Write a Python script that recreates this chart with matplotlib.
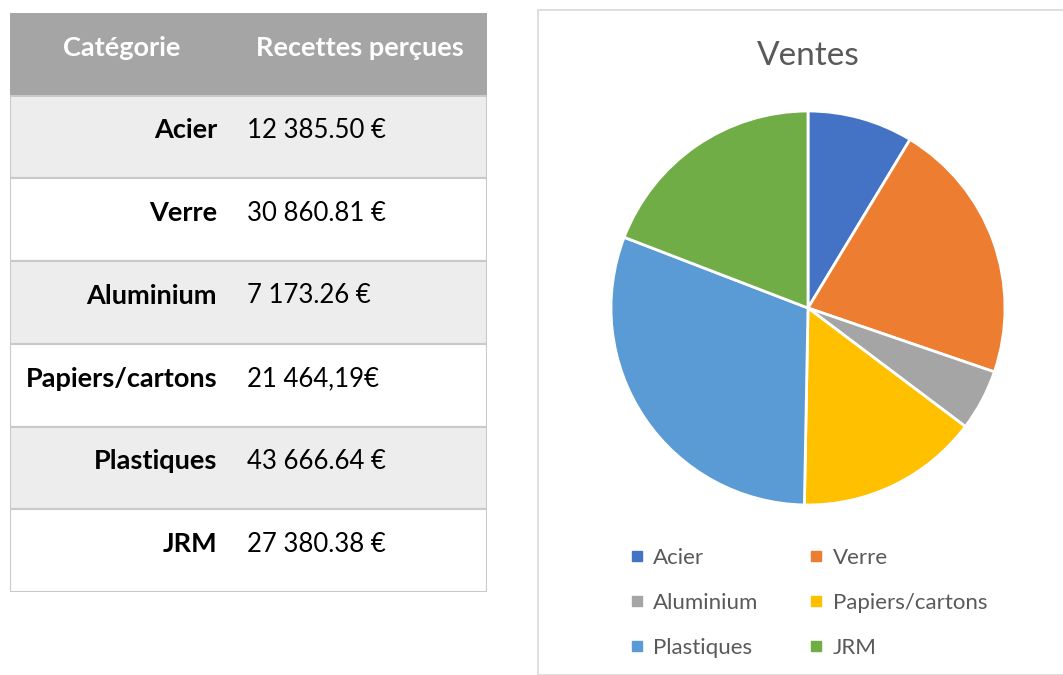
import matplotlib.pyplot as plt
from matplotlib.patches import Rectangle
from matplotlib.lines import Line2D

# donnees du tableau / camembert
categories = ['Acier', 'Verre', 'Aluminium', 'Papiers/cartons', 'Plastiques', 'JRM']
recettes = [12385.50, 30860.81, 7173.26, 21464.19, 43666.64, 27380.38]
recettes_txt = ['12 385.50 €', '30 860.81 €', '7 173.26 €', '21 464,19€', '43 666.64 €', '27 380.38 €']
couleurs = ['#4472C4', '#ED7D31', '#A5A5A5', '#FFC000', '#5B9BD5', '#70AD47']

plt.rcParams['font.family'] = ['Lato', 'DejaVu Sans']

W, H = 1063, 675
fig = plt.figure(figsize=(W / 100, H / 100), dpi=100)


def px_axes(x0, y0, x1, y1):
    # rectangle en pixels (origine en haut a gauche)
    return fig.add_axes([x0 / W, (H - y1) / H, (x1 - x0) / W, (y1 - y0) / H])


# ---- tableau ----
tab = px_axes(10, 13, 487, 592)
nrows = len(categories) + 1
tab.set_xlim(0, 1)
tab.set_ylim(nrows, 0)
tab.axis('off')

tab.add_patch(Rectangle((0, 0), 1, 1, facecolor='#A5A5A5', edgecolor='none'))
tab.text(0.235, 0.42, 'Catégorie', color='white', fontsize=19.5, fontweight='bold',
         ha='center', va='center')
tab.text(0.734, 0.42, 'Recettes perçues', color='white', fontsize=19.5, fontweight='bold',
         ha='center', va='center')

for i, (cat, txt) in enumerate(zip(categories, recettes_txt)):
    y = i + 1
    fond = '#EDEDED' if i % 2 == 0 else 'white'
    tab.add_patch(Rectangle((0, y), 1, 1, facecolor=fond, edgecolor='#C9C9C9', lw=1.5))
    tab.text(0.434, y + 0.42, cat, fontsize=19.5, fontweight='bold', color='black',
             ha='right', va='center')
    tab.text(0.497, y + 0.42, txt, fontsize=18.5, color='black', ha='left', va='center')

# ---- cadre du graphique ----
fig.patches.append(Rectangle((538 / W, 0), 1, (H - 10) / H, transform=fig.transFigure,
                             facecolor='white', edgecolor='#D9D9D9', lw=1.2, zorder=-1))
fig.text(808 / W, 1 - 56 / H, 'Ventes', color='#595959', fontsize=24,
         ha='center', va='center')

# ---- camembert ----
ax = px_axes(611, 111, 1005, 505)
ax.pie(recettes, colors=couleurs, startangle=90, counterclock=False,
       wedgeprops=dict(edgecolor='white', linewidth=2))
ax.set_xlim(-1, 1)
ax.set_ylim(-1, 1)

# legende en lignes : Acier, Verre / Aluminium, Papiers / Plastiques, JRM
ordre = [0, 2, 4, 1, 3, 5]
handles = [Line2D([], [], marker='s', linestyle='none', markersize=7,
                  markerfacecolor=couleurs[k], markeredgecolor=couleurs[k]) for k in ordre]
labels = [categories[k] for k in ordre]
fig.legend(handles, labels, ncol=2, loc='upper left',
           bbox_to_anchor=(630 / W, 1 - 548 / H), frameon=False,
           fontsize=16, labelcolor='#595959', handlelength=0.6, handletextpad=0.45,
           columnspacing=2.3, labelspacing=1.12, borderpad=0, borderaxespad=0)

fig.savefig('out.png', dpi=100, facecolor='white')
